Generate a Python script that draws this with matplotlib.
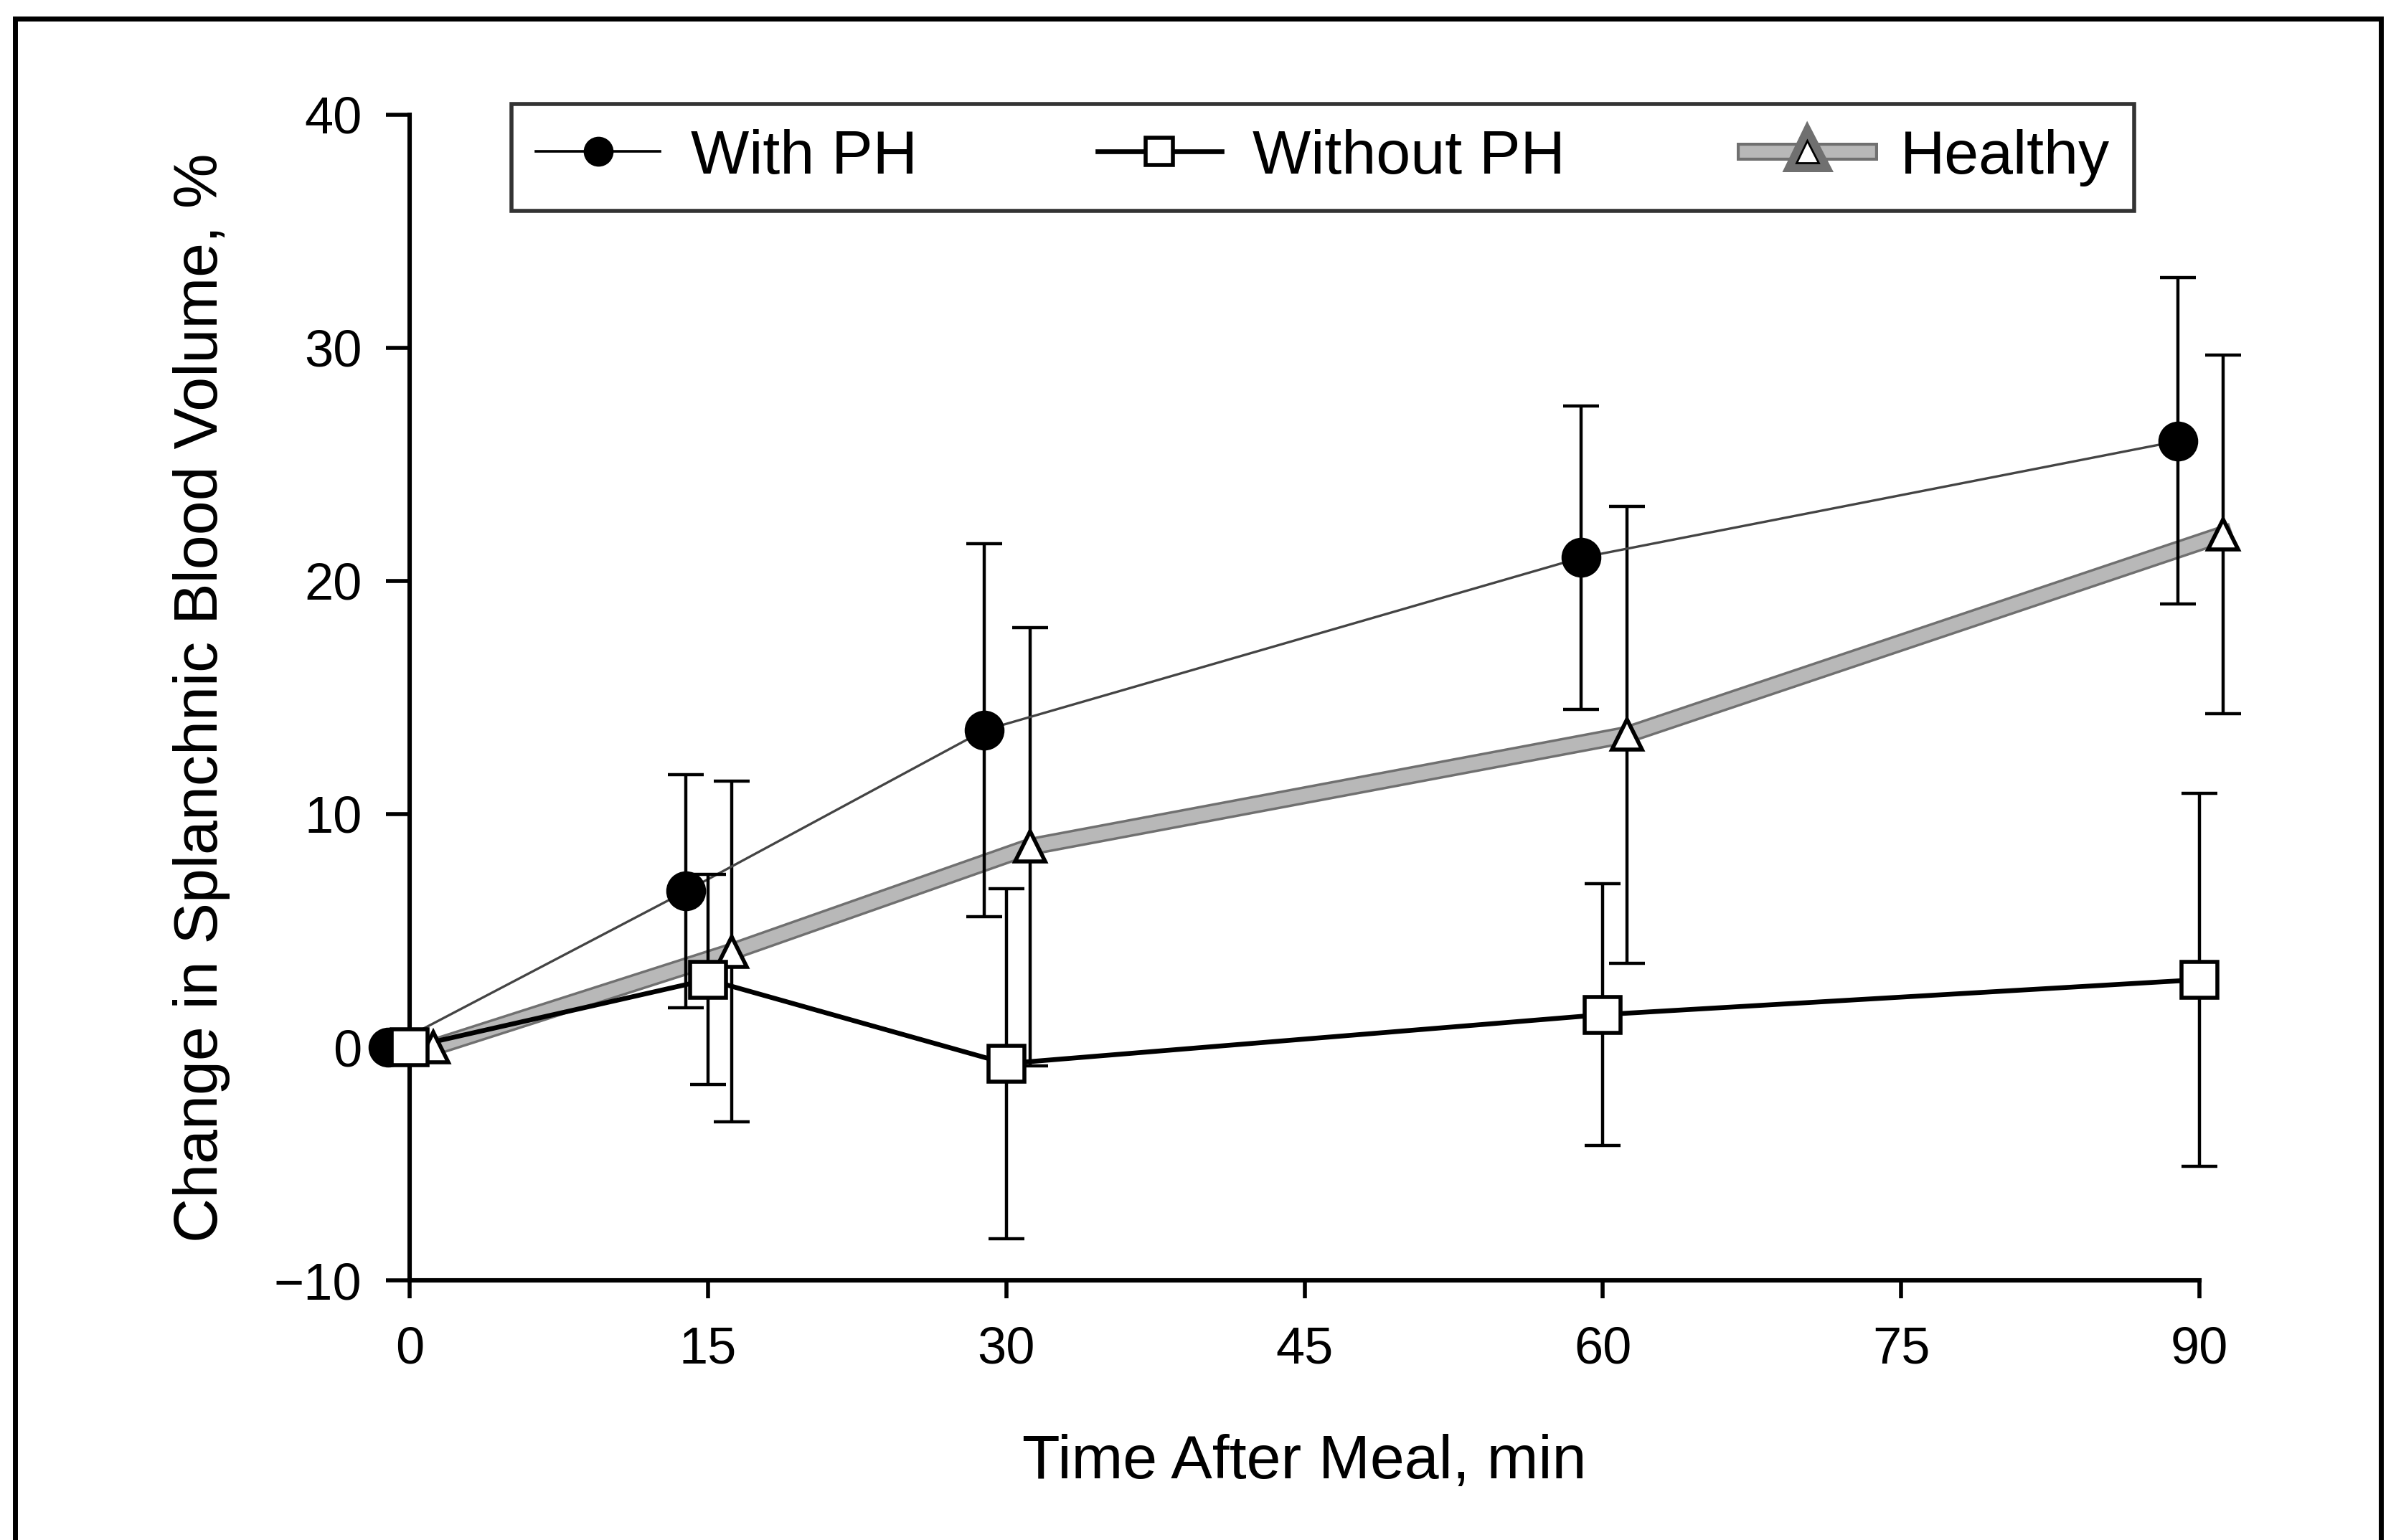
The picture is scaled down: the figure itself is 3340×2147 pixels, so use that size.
import numpy as np
import matplotlib
matplotlib.use("Agg")
import matplotlib.pyplot as plt
import matplotlib.patheffects as pe
from matplotlib.patches import Rectangle
from matplotlib.lines import Line2D

# data (minutes after meal, % change)
time_min = [0, 15, 30, 60, 90]
with_ph = [0, 6.7, 13.6, 21.0, 26.0]
with_ph_err = [0, 5.0, 8.0, 6.5, 7.0]
without_ph = [0, 2.9, -0.7, 1.4, 2.9]
without_ph_err = [0, 4.5, 7.5, 5.6, 8.0]
healthy = [0, 4.1, 8.6, 13.4, 22.0]
healthy_err = [0, 7.3, 9.4, 9.8, 7.7]
xticks = [0, 15, 30, 45, 60, 75, 90]
yticks = [-10, 0, 10, 20, 30, 40]
labels = ["With PH", "Without PH", "Healthy"]

plt.rcParams['font.family'] = ['Liberation Sans', 'DejaVu Sans']
plt.rcParams['font.stretch'] = 'condensed'

fig = plt.figure(figsize=(16.7, 10.735), dpi=200)
ax = fig.add_axes([0.171, 0.1686, 0.747, 0.7569])

t = np.array(time_min, dtype=float)
band = [pe.Stroke(linewidth=9, foreground='#707070'), pe.Normal()]
eb = dict(fmt='none', ecolor='black', elinewidth=1.6, capsize=9, capthick=1.6,
          zorder=3, clip_on=False)

# healthy: grey band, open triangles, shifted right a little
ax.plot(t + 1.2, healthy, color='#b8b8b8', lw=6.5, zorder=2, clip_on=False,
        path_effects=band)
ax.errorbar(t[1:] + 1.2, healthy[1:], yerr=healthy_err[1:], **eb)
ax.plot(t + 1.2, healthy, ls='none', marker='^', ms=15, mfc='white', mec='black',
        mew=2.0, zorder=4, clip_on=False)

# with PH: thin line, filled circles, shifted left
ax.plot(t - 1.1, with_ph, color='#444444', lw=1.2, zorder=3, clip_on=False)
ax.errorbar(t[1:] - 1.1, with_ph[1:], yerr=with_ph_err[1:], **eb)
ax.plot(t - 1.1, with_ph, ls='none', marker='o', ms=19, color='black', zorder=5, clip_on=False)

# without PH: solid line, open squares
ax.plot(t, without_ph, color='black', lw=2.4, zorder=3, clip_on=False)
ax.errorbar(t[1:], without_ph[1:], yerr=without_ph_err[1:], **eb)
ax.plot(t, without_ph, ls='none', marker='s', ms=18, mfc='white', mec='black',
        mew=2.0, zorder=5, clip_on=False)

ax.set_xlim(0, 90)
ax.set_ylim(-10, 40)
ax.set_xticks(xticks)
ax.set_yticks(yticks)
ax.set_yticklabels(['\u221210' if v < 0 else str(v) for v in yticks])
for s in ['top', 'right']:
    ax.spines[s].set_visible(False)
for s in ['left', 'bottom']:
    ax.spines[s].set_linewidth(2.2)
ax.tick_params(axis='y', direction='out', length=12, width=2, labelsize=26, pad=12)
ax.tick_params(axis='x', direction='out', length=9, width=2, labelsize=26, pad=14)
ax.set_xlabel('Time After Meal, min', fontsize=31, labelpad=30)
ax.set_ylabel('Change in Splanchnic Blood Volume, %', fontsize=31, labelpad=22)

# legend
handles = [
    Line2D([], [], color='black', lw=1.3, marker='o', ms=14),
    Line2D([], [], color='black', lw=2.4, marker='s', ms=14, mfc='white', mew=2),
    Line2D([], [], color='#b8b8b8', lw=6, marker='^', ms=11, mfc='white', mec='black',
           path_effects=band),
]
leg = fig.legend(handles, labels, ncol=3, mode='expand',
                 bbox_to_anchor=(713 / 3340, 1 - 294 / 2147, (2975 - 713) / 3340, 166 / 2147),
                 loc='lower left', fontsize=31, frameon=True, fancybox=False,
                 edgecolor='black', handlelength=2.0, handletextpad=0.5, borderaxespad=0,
                 borderpad=0.4)
leg.get_frame().set_linewidth(2)

# outer frame around the panel
fig.patches.append(Rectangle((21 / 3340, -0.02), (3319 - 21) / 3340, 1.02 - 26 / 2147,
                             transform=fig.transFigure, fill=False, lw=2.5,
                             edgecolor='black'))

fig.savefig('out.png', dpi=200)
